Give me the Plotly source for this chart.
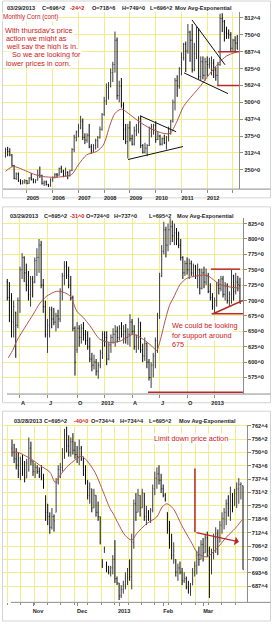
import pandas as pd
import plotly.graph_objects as go

# ======================= DATA =======================
# ---- Panel 1 : Monthly corn (continuous), Mar 2004 .. Mar 2013 ----
p1_first_month = "2004-03-01"
p1_open = [300, 325, 318, 305, 265, 218, 235, 208, 200, 205,
           210, 200, 220, 215, 205, 212, 230, 228, 200, 205, 195, 190,
           215, 222, 232, 230, 255, 245, 228, 240, 228, 248, 325, 370,
           390, 405, 430, 370, 360, 378, 335, 320, 340, 358, 370, 400,
           455, 505, 555, 560, 610, 640, 730, 525, 560, 490, 400, 355,
           405, 365, 345, 395, 400, 440, 340, 315, 330, 340, 405, 410,
           415, 362, 375, 345, 365, 350, 370, 400, 430, 500, 580, 560,
           625, 665, 715, 690, 760, 730, 620, 680, 765, 595, 650, 600,
           650, 640, 645, 645, 620, 600, 640, 810, 800, 760, 755, 750,
           700, 730, 718.75]
p1_high = [332, 335, 330, 308, 268, 240, 240, 215, 212, 215,
           212, 222, 238, 218, 215, 250, 262, 232, 210, 210, 198, 218,
           225, 238, 238, 258, 265, 250, 258, 245, 250, 330, 380, 395,
           420, 450, 440, 385, 385, 420, 345, 345, 365, 375, 410, 460,
           520, 570, 575, 625, 650, 762, 740, 580, 590, 500, 420, 420,
           430, 380, 410, 420, 448, 450, 345, 350, 345, 410, 420, 420,
           430, 390, 380, 370, 380, 375, 410, 435, 510, 590, 600, 630,
           685, 720, 725, 790, 765, 790, 720, 780, 775, 670, 670, 665,
           670, 665, 670, 660, 630, 650, 828, 830, 805, 780, 770, 760,
           735, 745, 749]
p1_low = [295, 300, 300, 262, 215, 212, 205, 195, 196, 198,
          196, 198, 210, 200, 200, 210, 220, 195, 190, 192, 186, 188,
          205, 218, 220, 228, 238, 222, 225, 215, 225, 245, 315, 355,
          370, 400, 360, 345, 350, 330, 310, 315, 325, 330, 365, 395,
          450, 490, 510, 555, 575, 610, 510, 500, 480, 360, 345, 292,
          355, 340, 340, 375, 385, 330, 310, 310, 300, 338, 370, 380,
          350, 360, 340, 340, 345, 325, 355, 380, 425, 470, 520, 550,
          600, 655, 612, 680, 650, 610, 615, 660, 585, 580, 585, 580,
          595, 625, 600, 590, 580, 562, 635, 760, 725, 735, 735, 690,
          690, 685, 696.25]
p1_close = [325, 318, 305, 265, 218, 235, 208, 200, 205, 210,
            200, 220, 215, 205, 212, 230, 228, 200, 205, 195, 190, 215,
            222, 232, 230, 255, 245, 228, 240, 228, 248, 325, 370, 390,
            405, 430, 370, 360, 378, 335, 320, 340, 358, 370, 400, 455,
            505, 555, 560, 610, 640, 730, 525, 560, 490, 400, 355, 405,
            365, 345, 395, 400, 440, 340, 315, 330, 340, 405, 410, 415,
            362, 375, 345, 365, 350, 370, 400, 430, 500, 580, 560, 625,
            665, 715, 690, 760, 730, 620, 680, 765, 595, 650, 600, 650,
            640, 645, 645, 620, 600, 640, 810, 800, 760, 755, 750, 700,
            730, 720.5, 696.25]
# exponential moving average (bar position, value)
p1_ema_at = [0, 3.6, 8.3, 13, 17.6, 22.3, 26.9, 30.8, 33.9, 37.8, 42.5, 45.6, 48.7, 51,
             54.1, 57.2, 62.7, 67.3, 73.5, 76.7, 79.8, 82.9, 85.2, 90.6, 95.3, 99.2, 103.1, 108]
p1_ema = [244, 262, 250, 234, 225, 222, 225, 232, 268, 305, 318, 342, 416, 459,
          475, 459, 426, 404, 385, 385, 428, 484, 508, 558, 607, 644, 672, 687]
p1_year_labels = ["2005", "2006", "2007", "2008", "2009", "2010", "2011", "2012", ""]
p1_price_ticks = [250, 312.5, 375, 437.5, 500, 562.5, 625, 687.5, 750, 812.5]
p1_price_labels = ["250^0", "312^4", "375^0", "437^4", "500^0", "562^4", "625^0", "687^4", "750^0", "812^4"]
# drawn lines: (bar0, price0, bar1, price1, kind)
p1_lines = [(86.9, 805, 102.3, 639, "black"), (83.2, 609, 103.7, 532, "black"),
            (62.7, 450, 79.5, 391, "black"), (57.1, 288, 82.7, 336, "black"),
            (99.0, 687.5, 108.9, 687.5, "red"), (98.6, 562.5, 108.9, 562.5, "red")]

# ---- Panel 2 : weekly, Feb 18 2011 .. Mar 29 2013 ----
p2_first_week = "2011-02-18"
p2_open = [730, 705, 700, 665, 680, 660, 700, 750, 770, 745,
           725, 710, 735, 730, 765, 770, 790, 725, 690, 645,
           660, 685, 670, 665, 675, 670, 715, 740, 755, 740,
           725, 705, 655, 620, 655, 640, 655, 645, 635, 625,
           605, 595, 600, 585, 595, 615, 645, 640, 605, 628,
           640, 645, 650, 640, 655, 645, 650, 640, 645, 665,
           650, 625, 640, 665, 620, 610, 630, 600, 575, 595,
           610, 635, 675, 740, 780, 815, 790, 815, 820, 805,
           810, 800, 790, 770, 745, 760, 750, 760, 745, 755,
           740, 750, 720, 745, 730, 740, 715, 705, 690, 700,
           725, 720, 735, 710, 725, 700, 710, 740, 715, 730,
           724]
p2_high = [735, 730, 712, 700, 682, 705, 755, 777, 772, 760,
           748, 740, 740, 770, 785, 800, 797, 735, 700, 670,
           690, 690, 688, 680, 685, 720, 745, 764, 764, 755,
           740, 708, 658, 665, 660, 662, 665, 652, 650, 640,
           615, 612, 605, 600, 620, 650, 650, 650, 632, 645,
           655, 660, 658, 660, 665, 660, 662, 655, 678, 670,
           660, 645, 672, 665, 630, 640, 632, 605, 600, 615,
           640, 680, 745, 790, 828, 820, 825, 834, 830, 825,
           818, 812, 800, 772, 765, 770, 768, 765, 760, 758,
           760, 752, 752, 755, 752, 745, 728, 712, 705, 730,
           735, 740, 740, 730, 728, 715, 750, 742, 745, 740,
           737]
p2_low = [700, 665, 640, 640, 607, 655, 680, 735, 730, 715,
          700, 690, 705, 728, 740, 745, 720, 680, 640, 615,
          640, 655, 660, 650, 655, 665, 700, 725, 735, 720,
          700, 650, 578, 615, 625, 630, 635, 628, 620, 600,
          585, 588, 578, 573, 590, 605, 625, 595, 603, 615,
          630, 625, 632, 635, 640, 630, 630, 628, 625, 645,
          620, 615, 620, 615, 600, 602, 590, 570, 558, 575,
          590, 615, 670, 738, 775, 770, 780, 790, 795, 790,
          790, 785, 765, 735, 740, 742, 735, 740, 738, 735,
          720, 710, 718, 720, 725, 712, 700, 685, 678, 690,
          710, 715, 705, 700, 695, 690, 695, 700, 710, 715,
          695.25]
p2_close = [705, 700, 665, 690, 660, 700, 750, 770, 745, 725,
            710, 735, 730, 765, 770, 790, 725, 690, 645, 660,
            685, 670, 665, 675, 670, 715, 740, 755, 740, 725,
            705, 655, 600, 655, 640, 655, 645, 635, 625, 605,
            595, 600, 585, 595, 615, 645, 640, 605, 628, 640,
            645, 650, 640, 655, 645, 650, 640, 645, 665, 650,
            625, 640, 665, 620, 610, 630, 600, 575, 595, 610,
            635, 675, 740, 780, 815, 790, 815, 820, 805, 810,
            800, 790, 770, 745, 760, 750, 760, 745, 755, 740,
            750, 720, 745, 730, 740, 715, 705, 690, 700, 725,
            720, 735, 710, 725, 700, 710, 740, 715, 730, 726.25,
            695.25]
p2_ema_at = [0.5, 2.8, 4.4, 9.2, 12.3, 15.5, 18.6, 23.3, 27, 30, 32.8, 36, 39.1, 43.8, 48.6,
             53.3, 59.6, 64.3, 68.3, 70.6, 72.2, 74.6, 76.9, 78.5, 81.7, 84.8, 89.6, 94.3,
             97.4, 100.6, 105.3, 110]
p2_ema = [607, 621, 634, 661, 678, 696, 707, 715, 713, 706, 683, 672, 659, 637, 632,
          634, 645, 637, 626, 619, 634, 667, 694, 704, 726, 736, 740, 741,
          734, 726, 722, 720]
p2_x_labels = ["A", "J", "O", "2012", "A", "J", "O", "2013"]
p2_price_ticks = [575, 600, 625, 650, 675, 700, 725, 750, 775, 800, 825]
p2_price_labels = ["575^0", "600^0", "625^0", "650^0", "675^0", "700^0", "725^0",
                   "750^0", "775^0", "800^0", "825^0"]
p2_lines = [(96.3, 751, 110, 751), (96.6, 678.6, 111.4, 678.6),
            (97.3, 678.6, 111.4, 700), (66.5, 551, 111.4, 551)]

# ---- Panel 3 : daily, Oct 18 2012 .. Mar 28 2013 ----
p3_first_day, p3_last_day = "2012-10-18", "2013-03-28"
p3_holidays = ["2012-11-22", "2012-12-25", "2013-01-01", "2013-01-21", "2013-02-18"]
p3_open = [752, 750, 747, 744, 740, 745, 742, 738, 742, 752,
           746, 741, 743, 741, 739, 738, 728, 722, 720, 715,
           720, 722, 736, 742, 743, 750, 758, 753, 750, 755,
           751, 749, 748, 752, 747, 740, 737, 730, 733, 724,
           730, 722, 720, 700, 705, 698, 695, 694, 696, 700,
           691, 689, 683, 686, 688, 690, 694, 692, 708, 726,
           722, 730, 724, 731, 720, 722, 719, 723, 733, 738,
           740, 737, 733, 730, 722, 714, 707, 702, 700, 694,
           696, 694, 690, 691, 687, 686, 688, 694, 697, 702,
           700, 707, 703, 710, 704, 700, 703, 710, 712, 708,
           716, 719, 722, 726, 724, 730, 725, 731, 733, 735,
           734.5]
p3_high = [756, 754, 752, 750, 748, 749, 746, 747, 757, 755,
           746, 745, 744, 743, 744, 740, 730, 726, 722, 724,
           721, 738, 744, 745, 752, 761, 762, 758, 757, 759,
           755, 753, 756, 753, 748, 744, 737, 736, 733, 733,
           730, 727, 720, 700, 706, 699, 697, 697, 702, 709,
           692, 689, 688, 690, 694, 696, 700, 712, 728, 731,
           733, 730, 733, 731, 725, 723, 724, 735, 741, 743,
           744, 740, 735, 731, 722, 718, 712, 708, 700, 698,
           699, 696, 694, 692, 690, 689, 696, 699, 704, 706,
           709, 710, 712, 713, 706, 705, 712, 715, 714, 718,
           722, 724, 728, 730, 734, 731, 733, 736, 738, 736,
           734.5]
p3_low = [748, 745, 742, 738, 737, 739, 736, 738, 741, 744,
          739, 738, 740, 738, 737, 733, 718, 716, 712, 714,
          713, 722, 735, 738, 741, 747, 750, 748, 748, 749,
          747, 745, 744, 746, 739, 735, 728, 726, 722, 724,
          720, 718, 707, 696, 703, 694, 693, 692, 693, 689,
          688, 681, 682, 684, 686, 688, 690, 686, 705, 718,
          722, 720, 724, 718, 716, 718, 717, 722, 730, 733,
          735, 731, 729, 727, 712, 705, 700, 698, 692, 690,
          693, 688, 689, 686, 684, 683, 688, 692, 693, 697,
          700, 699, 703, 701, 682, 693, 700, 703, 702, 708,
          712, 714, 716, 720, 718, 722, 725, 724, 726, 728,
          695.25]
p3_close = [750, 747, 744, 740, 745, 742, 738, 745, 752, 746,
            741, 743, 741, 739, 738, 735, 722, 720, 715, 720,
            718, 736, 742, 743, 750, 758, 753, 750, 755, 751,
            749, 748, 752, 747, 740, 737, 730, 733, 724, 730,
            722, 720, 708, 697, 705, 695, 694, 696, 700, 691,
            689, 683, 686, 688, 690, 694, 692, 708, 726, 722,
            730, 724, 731, 720, 722, 719, 723, 733, 738, 740,
            737, 733, 730, 728, 714, 707, 702, 704, 694, 696,
            694, 690, 691, 687, 686, 688, 694, 697, 702, 700,
            707, 703, 710, 704, 700, 703, 710, 712, 706, 716,
            719, 722, 726, 724, 730, 725, 731, 733, 735, 735.25,
            695.25]
p3_ema_at = [0, 3, 6.2, 10.2, 13.3, 18.1, 20.5, 22.9, 26, 30.8, 33.2, 35.6, 39.5, 43.5, 46.7,
             48.2, 50.6, 53.8, 57, 59.4, 64.1, 68.9, 71.5, 73.7, 76.8, 80.8, 84.8, 88.7, 92.7,
             97.5, 102.2, 106.2, 109.4]
p3_ema = [750.1, 750, 748.5, 746.2, 743.9, 740.7, 736.1, 739.2, 743.1, 747, 748.2, 746.2,
          740.7, 731.4, 723.7, 721.4, 716.7, 711.3, 709, 712.1, 716.7, 719.8, 724.5, 726,
          723.7, 715.9, 709, 702.7, 701.2, 705.1, 710.5, 714.4, 718.3]
p3_x_labels = ["Nov", "Dec", "2013", "Feb", "Mar"]
p3_price_ticks = [687.5, 693.75, 700, 706.25, 712.5, 718.75, 725, 731.25, 737.5, 743.75, 750, 756.25, 762.5]
p3_price_labels = ["687^4", "693^6", "700^0", "706^2", "712^4", "718^6", "725^0", "731^2",
                   "737^4", "743^6", "750^0", "756^2", "762^4"]
p3_arrow = [(87.1, 742.5), (87.1, 712.7), (108.1, 708.2)]

# header fields (text, is_red)
p1_header = [("03/29/2013", 0), ("C=696^2", 0), ("-24^2", 1), ("O=718^6", 0), ("H=749^0", 0),
             ("L=696^2", 0), ("Mov Avg-Exponential", 0)]
p2_header = [("03/29/2013", 0), ("C=695^2", 0), ("-31^0", 1), ("O=724^0", 0), ("H=737^0", 0),
             ("L=695^2", 0), ("Mov Avg-Exponential", 0)]
p3_header = [("03/28/2013", 0), ("C=695^2", 0), ("-40^0", 1), ("O=734^4", 0), ("H=734^4", 0),
             ("L=695^2", 0), ("Mov Avg-Exponential", 0)]

# ======================= STYLE / LAYOUT =======================
W, H = 276, 625
YEL = "#f2ec8a"
AXC = "#8c8c8c"
TXT = "#1e1e1e"
RED = "#cc2020"
LINE_RED = "#b8282a"
EMA_C = "#b0554f"
UP_C = "#3c3c3c"
DN_C = "#080808"
FONT = "Liberation Sans"
SMALL = 5.6


def fx(x):
    return x / W


def fy(y):
    return 1 - y / H


# dates and positions
p1_dates = pd.date_range(p1_first_month, periods=len(p1_close), freq="MS")
p2_dates = pd.date_range(p2_first_week, periods=len(p2_close), freq="W-FRI")
p3_dates = pd.bdate_range(p3_first_day, p3_last_day)
p3_dates = p3_dates[~p3_dates.isin(pd.to_datetime(p3_holidays))]

p1_x = list(range(len(p1_close)))
p2_x = list(range(len(p2_close)))
p3_x = list(range(len(p3_close)))

p1_tv = [i for i, d in enumerate(p1_dates) if d.month == 1]
p2_tv = [i for i, d in enumerate(p2_dates)
         if d.month in (1, 4, 7, 10) and (i == 0 or p2_dates[i - 1].month != d.month)]
p3_tv = [i for i, d in enumerate(p3_dates) if i > 0 and p3_dates[i - 1].month != d.month]

fig = go.Figure()

panels = [
    (p1_x, p1_open, p1_high, p1_low, p1_close, p1_ema_at, p1_ema, "x", "y", 0.3),
    (p2_x, p2_open, p2_high, p2_low, p2_close, p2_ema_at, p2_ema, "x2", "y2", 0.3),
    (p3_x, p3_open, p3_high, p3_low, p3_close, p3_ema_at, p3_ema, "x3", "y3", 0.25),
]
for xs, o, h, l, c, ea, ev, xa, ya, tw in panels:
    fig.add_trace(go.Ohlc(x=xs, open=o, high=h, low=l, close=c, xaxis=xa, yaxis=ya,
                          increasing=dict(line=dict(color=UP_C, width=1)),
                          decreasing=dict(line=dict(color=DN_C, width=1)),
                          tickwidth=tw, showlegend=False, hoverinfo="skip"))
    fig.add_trace(go.Scatter(x=ea, y=ev, mode="lines", xaxis=xa, yaxis=ya,
                             line=dict(color=EMA_C, width=1, shape="spline", smoothing=0.8),
                             showlegend=False, hoverinfo="skip"))

tickfont = dict(family=FONT, size=SMALL, color=TXT, weight="bold")


def xaxis(dom, rng, tv, tt, grid=True, shift=5):
    return dict(domain=[fx(dom[0]), fx(dom[1])], range=list(rng), tickmode="array",
                tickvals=tv, ticktext=tt, showgrid=grid, gridcolor=YEL, gridwidth=1,
                ticks="outside", ticklen=3, tickcolor=AXC, tickfont=tickfont,
                showline=False, zeroline=False, rangeslider=dict(visible=False),
                ticklabelshift=shift, fixedrange=True)


def yaxis(dom, rng, tv, tt):
    return dict(domain=[fy(dom[1]), fy(dom[0])], range=list(rng), side="right",
                tickmode="array", tickvals=tv, ticktext=tt, showgrid=True, gridcolor=YEL,
                gridwidth=1, showline=True, linecolor=AXC, linewidth=1, ticks="outside",
                ticklen=3, tickcolor=AXC, tickfont=tickfont, zeroline=False, fixedrange=True)


fig.update_layout(
    width=W, height=H, margin=dict(l=0, r=0, t=0, b=0),
    paper_bgcolor="white", plot_bgcolor="white", showlegend=False,
    xaxis=dict(xaxis((3, 239.3), (-1.165, 108.95), p1_tv, p1_year_labels, shift=6), anchor="y"),
    yaxis=dict(yaxis((10, 187.7), (178.4, 834.6), p1_price_ticks, p1_price_labels), anchor="x"),
    xaxis2=dict(xaxis((3, 243), (-2.03, 111.44), p2_tv, p2_x_labels, shift=3), anchor="y2"),
    yaxis2=dict(yaxis((217, 393.3), (548.1, 833.6), p2_price_ticks, p2_price_labels), anchor="x2"),
    xaxis3=dict(xaxis((3, 246.7), (-4.29, 111.76), p3_tv, p3_x_labels, grid=False, shift=5),
                anchor="y3",
                minor=dict(tickmode="linear", tick0=4.14, dtick=6.39, showgrid=True,
                           gridcolor=YEL, gridwidth=1, ticks="outside", ticklen=2,
                           tickcolor=AXC)),
    yaxis3=dict(yaxis((424, 602.3), (679.92, 762.97), p3_price_ticks, p3_price_labels), anchor="x3"),
)

shapes = []
# panel frames
for x0, y0, x1, y1 in [(2.5, -1, 270.5, 196.5), (2.5, 205.5, 270.5, 402), (2.5, 410.5, 270.5, 621)]:
    shapes.append(dict(type="rect", xref="paper", yref="paper", x0=fx(x0), x1=fx(x1),
                       y0=fy(y0), y1=fy(y1), line=dict(color="#d4d4d4", width=1),
                       fillcolor="rgba(0,0,0,0)", layer="below"))
# x axis base lines (extend to the panel frame)
for x0, y in [(3, 187.7), (7, 393.3), (11, 602.3)]:
    shapes.append(dict(type="line", xref="paper", yref="paper", x0=fx(x0), x1=fx(270.5),
                       y0=fy(y), y1=fy(y), line=dict(color=AXC, width=1)))
# trend lines panel 1
for b0, v0, b1, v1, kind in p1_lines:
    shapes.append(dict(type="line", xref="x", yref="y", x0=b0, y0=v0, x1=b1, y1=v1,
                       line=dict(color="#111111" if kind == "black" else LINE_RED,
                                 width=1 if kind == "black" else 1.5)))
# support / resistance lines panel 2
for b0, v0, b1, v1 in p2_lines:
    shapes.append(dict(type="line", xref="x2", yref="y2", x0=b0, y0=v0, x1=b1, y1=v1,
                       line=dict(color=LINE_RED, width=1.5)))
# limit-down marker panel 3
shapes.append(dict(type="line", xref="x3", yref="y3", x0=p3_arrow[0][0], y0=p3_arrow[0][1],
                   x1=p3_arrow[1][0], y1=p3_arrow[1][1], line=dict(color=LINE_RED, width=1.5)))
fig.update_layout(shapes=shapes)

ann = []
# arrow panel 3
ann.append(dict(x=p3_arrow[2][0], y=p3_arrow[2][1], ax=p3_arrow[1][0], ay=p3_arrow[1][1],
                xref="x3", yref="y3", axref="x3", ayref="y3", text="", showarrow=True,
                arrowhead=1, arrowsize=1.2, arrowwidth=1.2, arrowcolor=LINE_RED))


def header(fields, xs, y):
    for (t, red), x in zip(fields, xs):
        ann.append(dict(text=t, x=fx(x), y=fy(y), xref="paper", yref="paper", showarrow=False,
                        xanchor="left", yanchor="middle",
                        font=dict(family=FONT, size=SMALL, color=RED if red else TXT, weight="bold")))


header(p1_header, [5, 40, 68, 90, 120, 148, 173], 6)
header(p2_header, [8.3, 41.7, 68, 84, 112, 146.7, 175], 214.3)
header(p3_header, [11.7, 41.7, 72, 89, 117.5, 146.5, 176.7], 420.7)


def note(t, x, y, size=7.3):
    ann.append(dict(text=t, x=fx(x), y=fy(y), xref="paper", yref="paper", showarrow=False,
                    xanchor="left", yanchor="middle", bgcolor="white", borderpad=0,
                    font=dict(family=FONT, size=size, color=RED)))


note("Monthly Corn (cont)", 1.7, 15.5, size=6.3)
for t, x, y in [("With thursday's price", 4, 29), ("action we might as", 5, 36.7),
                ("well say the high is in.", 5, 44.3), ("So we are looking for", 10.5, 52.7),
                ("lower prices in corn.", 5, 61.7)]:
    note(t, x, y)
for t, y in [("We could be looking", 325), ("for support around", 334.3), ("675", 343.3)]:
    note(t, 170.7, y)
note("Limit down price action", 152.7, 438.3)

fig.update_layout(annotations=ann)
fig.write_html("out.html")
